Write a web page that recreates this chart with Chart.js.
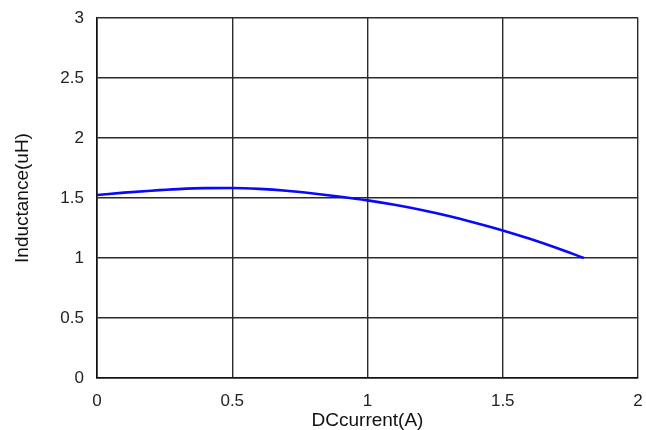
<!DOCTYPE html>
<html>
<head>
<meta charset="utf-8">
<script src="https://cdn.jsdelivr.net/npm/chart.js@4.4.0/dist/chart.umd.min.js"></script>
<style>
  html, body { margin: 0; padding: 0; background: #fff; }
  #wrap { width: 646px; height: 430px; }
</style>
</head>
<body>
<div id="wrap"><canvas id="chart"></canvas></div>
<script>
// DC current (A) and inductance (uH)
const currentA = [0, 0.1, 0.2, 0.3, 0.4, 0.5, 0.6, 0.7, 0.8, 0.9, 1.0, 1.1, 1.2, 1.3, 1.4, 1.5, 1.6, 1.7, 1.8];
const inductanceUH = [1.525, 1.545, 1.561, 1.574, 1.582, 1.583, 1.576, 1.561, 1.538, 1.511, 1.48, 1.443, 1.40, 1.35, 1.292, 1.23, 1.16, 1.083, 1.0];

const xTicks = [0, 0.5, 1, 1.5, 2];
const yTicks = [0, 0.5, 1, 1.5, 2, 2.5, 3];

const points = currentA.map((x, i) => ({ x: x, y: inductanceUH[i] }));

const family = 'Liberation Sans, Arial, sans-serif';
const tickFont = { family: family, size: 17 };

new Chart(document.getElementById('chart'), {
    type: 'line',
    data: {
        datasets: [{
            data: points,
            borderColor: '#0808ff',
            borderWidth: 2.6,
            pointRadius: 0,
            tension: 0.4,
            cubicInterpolationMode: 'monotone',
            fill: false
        }]
    },
    options: {
        responsive: true,
        maintainAspectRatio: false,
        animation: false,
        layout: { padding: { left: 0, right: 8, top: 18, bottom: 0 } },
        plugins: {
            legend: { display: false },
            tooltip: { enabled: false }
        },
        scales: {
            x: {
                type: 'linear',
                min: 0,
                max: 2,
                afterBuildTicks: axis => { axis.ticks = xTicks.map(v => ({ value: v })); },
                afterFit: axis => {
                    axis.height = 52;
                    axis.paddingLeft = 0;
                    axis.paddingRight = 0;
                },
                grid: { color: '#2a2a2a', lineWidth: 1.4, drawTicks: false },
                border: { color: '#111', width: 1.6 },
                ticks: {
                    color: '#222',
                    font: tickFont,
                    padding: 13,
                    maxRotation: 0,
                    callback: v => String(v)
                },
                title: {
                    display: true,
                    text: 'DCcurrent(A)',
                    color: '#111',
                    font: { family: family, size: 19, lineHeight: 1 },
                    padding: { top: 0, bottom: 0 }
                }
            },
            y: {
                min: 0,
                max: 3,
                afterBuildTicks: axis => { axis.ticks = yTicks.map(v => ({ value: v })); },
                afterFit: axis => {
                    axis.width = 97;
                    axis.paddingTop = 0;
                    axis.paddingBottom = 0;
                },
                grid: { color: '#2a2a2a', lineWidth: 1.4, drawTicks: false },
                border: { color: '#111', width: 1.6 },
                ticks: {
                    color: '#222',
                    font: tickFont,
                    padding: 13,
                    callback: v => String(v)
                },
                title: {
                    display: true,
                    text: 'Inductance(uH)',
                    color: '#111',
                    font: { family: family, size: 19 },
                    padding: { top: 11, bottom: 0 }
                }
            }
        }
    }
});
</script>
</body>
</html>
